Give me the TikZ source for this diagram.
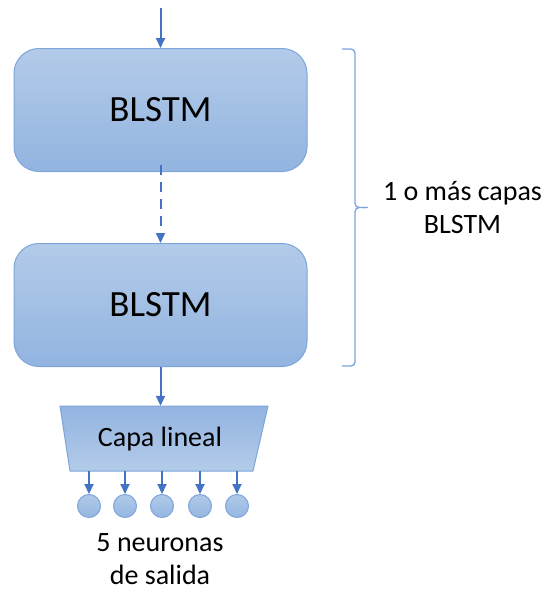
\documentclass[tikz,border=0pt]{standalone}
\usepackage{fontspec}
\setmainfont{Carlito}
\usetikzlibrary{arrows.meta}
\definecolor{arrowblue}{HTML}{4472C4}
\definecolor{edgeblue}{HTML}{7EA5DA}
\definecolor{fillhi}{HTML}{B3CBE9}
\definecolor{filllo}{HTML}{92B4E0}
\definecolor{bracecol}{HTML}{7DA3DC}
\tikzset{
  layer/.style={draw=edgeblue, line width=1pt, rounded corners=25pt,
    top color=fillhi, bottom color=filllo,
    minimum width=293pt, minimum height=123pt,
    font=\fontsize{37}{40}\selectfont},
  neuron/.style={circle, draw=edgeblue, line width=1pt,
    top color=fillhi!90!filllo, bottom color=filllo!90!fillhi,
    minimum size=23pt, inner sep=0pt},
  flow/.style={draw=arrowblue, line width=2pt,
    -{Triangle[width=9pt,length=10pt]}},
  label/.style={font=\fontsize{28}{33}\selectfont, align=center, inner sep=0pt}
}
\begin{document}
\begin{tikzpicture}[x=1pt, y=-1pt]
  \useasboundingbox (0,0) rectangle (544,590);

  % the two recurrent layers
  \node[layer] (b1) at (160.5,110) {BLSTM};
  \node[layer] (b2) at (160.5,305) {BLSTM};

  % linear output layer (trapezoid, wide side up)
  \shade[draw=edgeblue, line width=1pt, top color=filllo, bottom color=fillhi]
    (60,406) -- (268,406) -- (253,471) -- (70,471) -- cycle;
  \node[minimum width=208pt, minimum height=65pt, inner sep=0pt] (lin) at (164,438.5) {};
  \node[label] (lintext) at (160,439) {Capa lineal};

  % output neurons
  \foreach \i/\x in {1/89,2/125,3/162,4/200,5/237}{
    \node[neuron] (n\i) at (\x,506) {};
    \draw[flow] (n\i |- lin.south) -- (n\i.north);
  }

  % connections between the blocks
  \coordinate (in) at (160.5,8);
  \draw[flow] (in) -- (b1.north);
  \draw[flow, dash pattern=on 10pt off 7pt] ([yshift=7pt]b1.south) -- (b2.north);
  \draw[flow] (b2.south) -- (b2.south |- lin.north);

  % brace grouping the BLSTM layers
  \coordinate (bt) at (342,49);
  \coordinate (bb) at (342,366);
  \coordinate (tip) at (368,207.5);
  \draw[bracecol, line width=1.3pt]
    (bt) -- (351,49) to[out=0,in=90] (355,53) -- (355,203.5)
    to[out=-90,in=180] (tip) to[out=180,in=90] (355,211.5)
    -- (355,362) to[out=-90,in=0] (351,366) -- (bb);

  \node[label] (grp) at (462.5,208) {1 o más capas\\BLSTM};
  \node[label] (out) at (160,559) {5 neuronas\\de salida};
\end{tikzpicture}
\end{document}
